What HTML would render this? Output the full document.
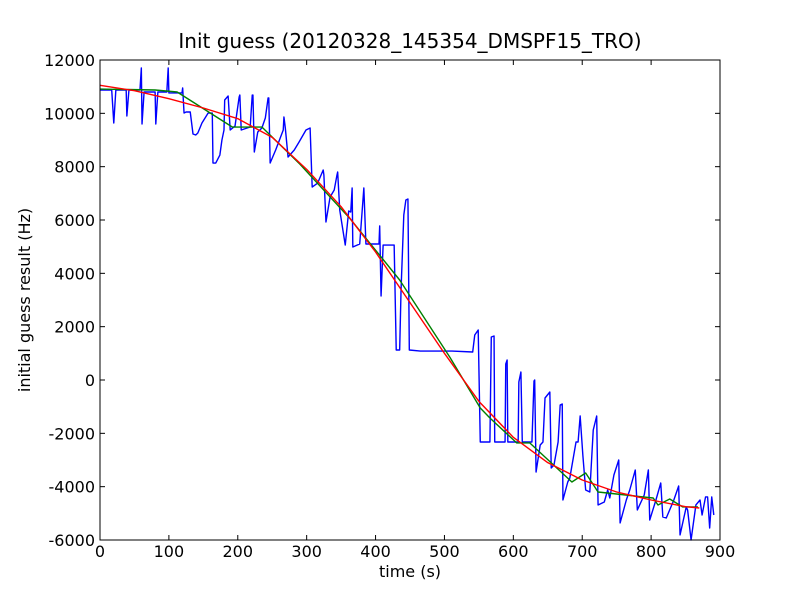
<!DOCTYPE html>
<html><head><meta charset="utf-8"><style>
body{margin:0;background:#fff}
svg{font-family:"DejaVu Sans","Liberation Sans",sans-serif}
</style></head><body>
<svg id="chart" width="800" height="600">
<rect width="800" height="600" fill="#fff"/>
<text x="410" y="48" font-size="20" text-anchor="middle">Init guess (20120328_145354_DMSPF15_TRO)</text>
<text x="410" y="577" font-size="16" text-anchor="middle">time (s)</text>
<text x="30" y="300" font-size="16" text-anchor="middle" transform="rotate(-90 30 300)">initial guess result (Hz)</text>
<g id="plot"></g>
<rect x="100" y="60" width="620" height="480" fill="none" stroke="#000" stroke-width="1"/>
</svg>
<script>
const xTicks=[0,100,200,300,400,500,600,700,800,900];
const yTicks=[-6000,-4000,-2000,0,2000,4000,6000,8000,10000,12000];
const blueT=[0,17,20,23,38,39,42,58,60,61,64,80,81,84,97,99,100,119,120,122,125,131,135,139,142,148,157,163,164,168,174,177,180,181,186,189,196,202,203,205,218,221,222,224,229,235,240,244,245,247,255,266,267,269,273,282,289,299,305,308,316,324,325,328,334,340,344,345,348,356,361,364,366,367,377,383,386,405,406,408,411,427,430,435,437,441,444,447,449,465,511,541,544,549,552,566,568,572,573,588,589,591,592,607,608,611,613,627,630,631,633,639,643,646,653,655,659,665,668,671,672,679,682,691,694,697,701,705,711,716,721,723,732,737,740,746,753,755,764,769,777,780,790,796,798,807,814,817,822,833,840,842,851,853,858,865,871,874,879,882,885,888,891];
const blueV=[10875,10875,9637,10875,10875,9900,10875,10875,11700,9600,10800,10800,9600,10800,10800,11700,10763,10763,10950,10012,10050,10050,9225,9188,9262,9637,10012,10012,8137,8137,8437,9000,9375,10500,10650,9375,9525,10612,10687,9375,9487,10687,10687,8550,9300,9450,9825,10575,10575,8137,8625,9375,9862,9450,8362,8625,8925,9375,9450,7237,7387,7875,7687,5925,6862,7125,7687,7800,6375,5062,6337,6300,7200,4987,5100,7200,5100,5100,5775,3150,5062,5062,1125,1125,3375,6187,6750,6787,1125,1087,1087,1050,1687,1875,-2325,-2325,1612,1650,-2325,-2325,600,750,-2325,-2325,-75,300,-2325,-2325,-37,0,-3450,-2437,-2325,-675,-450,-3300,-3187,-2325,-937,-900,-4500,-3825,-3675,-2325,-2325,-1350,-2850,-4125,-4200,-1875,-1350,-4687,-4575,-4125,-4425,-3562,-3000,-5362,-4500,-4125,-3375,-4875,-4312,-3375,-5250,-4500,-3862,-5137,-5175,-4500,-3975,-5812,-4762,-4875,-6000,-4687,-4500,-5062,-4387,-4387,-5550,-4387,-5062];
const greenT=[0,80,112,192,235,290,363,435,508,552,566,605,624,685,705,723,803,810,827,846,868];
const greenV=[10912,10875,10800,9487,9487,8100,6050,3750,850,-1050,-1425,-2362,-2362,-3825,-3487,-4200,-4425,-4687,-4462,-4762,-4762];
const redT=[0,50,100,150,200,250,300,350,400,450,500,550,600,650,700,750,800,850,870];
const redV=[11050,10850,10550,10200,9800,9100,7900,6500,4800,2900,1000,-800,-2150,-3100,-3750,-4200,-4500,-4750,-4800];

const X=t=>100+t*620/900;
const Y=v=>60+(12000-v)*480/18000;
const NS="http://www.w3.org/2000/svg";
const plot=document.getElementById('plot');
function mk(tag,attrs){const e=document.createElementNS(NS,tag);for(const k in attrs)e.setAttribute(k,attrs[k]);return e;}
xTicks.forEach(t=>{
  const g=mk('g',{});
  
  
  g.appendChild(mk('line',{x1:X(t),x2:X(t),y1:540,y2:535,stroke:'#000'}));
  g.appendChild(mk('line',{x1:X(t),x2:X(t),y1:60,y2:65,stroke:'#000'}));
  const tx=mk('text',{x:X(t),y:557,'font-size':16,'text-anchor':'middle'});tx.textContent=t;g.appendChild(tx);
  plot.appendChild(g);
});
yTicks.forEach(v=>{
  const g=mk('g',{});
  
  
  g.appendChild(mk('line',{x1:100,x2:105,y1:Y(v),y2:Y(v),stroke:'#000'}));
  g.appendChild(mk('line',{x1:720,x2:715,y1:Y(v),y2:Y(v),stroke:'#000'}));
  const tx=mk('text',{x:95,y:Y(v)+6,'font-size':16,'text-anchor':'end'});tx.textContent=v;g.appendChild(tx);
  plot.appendChild(g);
});
function line(T,V,color,name){
  const p=mk('polyline',{points:T.map((t,i)=>X(t)+','+Y(V[i])).join(' '),fill:'none',stroke:color,'stroke-width':1.4,'stroke-linejoin':'round'});
  
  
  plot.appendChild(p);
}
line(blueT,blueV,'#0000ff','raw-guess-line');
line(greenT,greenV,'#008000','smoothed-line');
line(redT,redV,'#ff0000','fit-line');
</script>
</body></html>
